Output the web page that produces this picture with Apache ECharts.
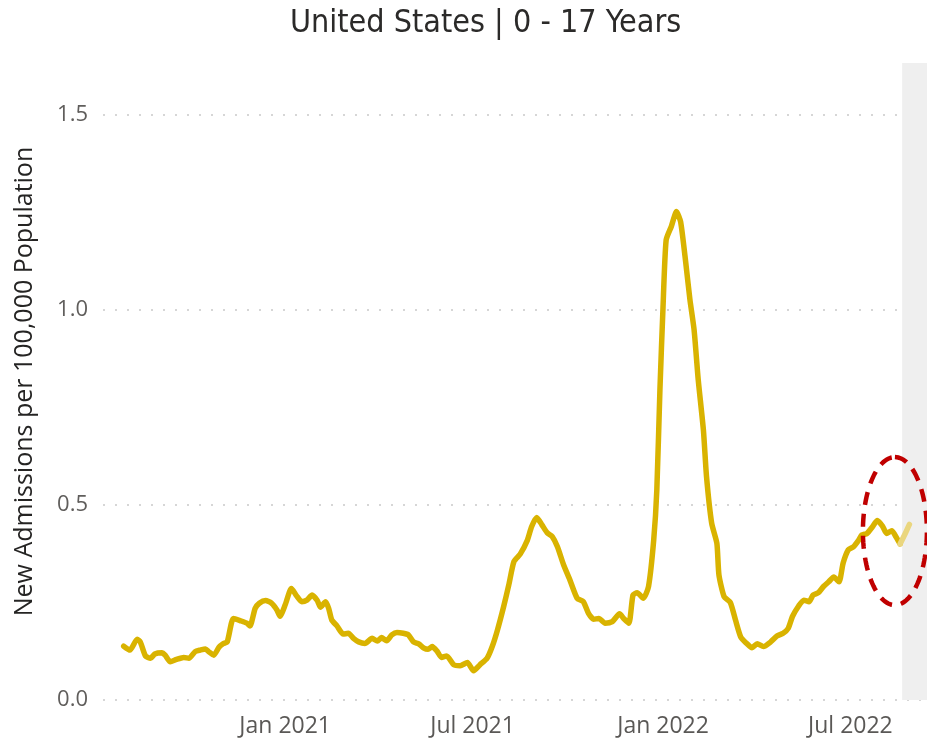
<!DOCTYPE html>
<html>
<head>
<meta charset="utf-8">
<title>United States | 0 - 17 Years</title>
<script src="https://cdn.jsdelivr.net/npm/echarts@6/dist/echarts.min.js"></script>
<style>
  html, body { margin: 0; padding: 0; background: #fff; }
  #chart { width: 927px; height: 739px; }
</style>
</head>
<body>
<div id="chart"></div>
<script>
// new admissions per 100k, 0-17 yrs
const dates = [
  '2020-07-29', '2020-08-04', '2020-08-11', '2020-08-14', '2020-08-19', '2020-08-24', '2020-08-28',
  '2020-09-04', '2020-09-07', '2020-09-12', '2020-09-18', '2020-09-25', '2020-09-30',
  '2020-10-06', '2020-10-11', '2020-10-16', '2020-10-19', '2020-10-24', '2020-10-29',
  '2020-11-02', '2020-11-06', '2020-11-12', '2020-11-19', '2020-11-25', '2020-11-28',
  '2020-12-03', '2020-12-07', '2020-12-13', '2020-12-19', '2020-12-24', '2020-12-27',
  '2021-01-01', '2021-01-07', '2021-01-12', '2021-01-17', '2021-01-22', '2021-01-27',
  '2021-02-01', '2021-02-04', '2021-02-09', '2021-02-12', '2021-02-15', '2021-02-20', '2021-02-26',
  '2021-03-03', '2021-03-08', '2021-03-13', '2021-03-19', '2021-03-26', '2021-03-31',
  '2021-04-04', '2021-04-09', '2021-04-14', '2021-04-19', '2021-04-25', '2021-04-30',
  '2021-05-05', '2021-05-10', '2021-05-15', '2021-05-19', '2021-05-23', '2021-05-28',
  '2021-06-01', '2021-06-06', '2021-06-13', '2021-06-19', '2021-06-26',
  '2021-07-02', '2021-07-08', '2021-07-15', '2021-07-20', '2021-07-25', '2021-07-31',
  '2021-08-05', '2021-08-10', '2021-08-16', '2021-08-23', '2021-08-27',
  '2021-09-01', '2021-09-06', '2021-09-11', '2021-09-16', '2021-09-21', '2021-09-27',
  '2021-10-03', '2021-10-10', '2021-10-16', '2021-10-21', '2021-10-26', '2021-10-31',
  '2021-11-06', '2021-11-13', '2021-11-20', '2021-11-24', '2021-11-29',
  '2021-12-03', '2021-12-07', '2021-12-13', '2021-12-18', '2021-12-23', '2021-12-26', '2021-12-29',
  '2022-01-01', '2022-01-04', '2022-01-09', '2022-01-14', '2022-01-18', '2022-01-23', '2022-01-27', '2022-01-31',
  '2022-02-04', '2022-02-09', '2022-02-12', '2022-02-17', '2022-02-22', '2022-02-24',
  '2022-03-01', '2022-03-07', '2022-03-12', '2022-03-17', '2022-03-22', '2022-03-28',
  '2022-04-02', '2022-04-08', '2022-04-15', '2022-04-21', '2022-04-27',
  '2022-05-02', '2022-05-06', '2022-05-12', '2022-05-17', '2022-05-22', '2022-05-26', '2022-05-31',
  '2022-06-05', '2022-06-10', '2022-06-15', '2022-06-20', '2022-06-24', '2022-06-29',
  '2022-07-04', '2022-07-09', '2022-07-12', '2022-07-17', '2022-07-22', '2022-07-27',
  '2022-08-01', '2022-08-05', '2022-08-10', '2022-08-13', '2022-08-18'
];
const values = [
  0.138, 0.128, 0.156, 0.149, 0.113, 0.107, 0.118,
  0.121, 0.115, 0.098, 0.104, 0.109, 0.107,
  0.124, 0.128, 0.131, 0.124, 0.115, 0.135,
  0.144, 0.149, 0.209, 0.203, 0.197, 0.190,
  0.235, 0.248, 0.255, 0.248, 0.231, 0.215,
  0.244, 0.286, 0.267, 0.252, 0.256, 0.269,
  0.255, 0.238, 0.252, 0.235, 0.205, 0.190, 0.169,
  0.171, 0.158, 0.149, 0.145, 0.158, 0.151,
  0.160, 0.152, 0.167, 0.173, 0.171, 0.167,
  0.149, 0.144, 0.133, 0.130, 0.137, 0.124,
  0.109, 0.113, 0.090, 0.088, 0.096,
  0.075, 0.090, 0.107, 0.137, 0.179, 0.239,
  0.295, 0.355, 0.374, 0.410, 0.444,
  0.468, 0.449, 0.429, 0.419, 0.393, 0.346,
  0.308, 0.261, 0.252, 0.222, 0.207, 0.209,
  0.197, 0.201, 0.221, 0.209, 0.197,
  0.269, 0.275, 0.261, 0.291, 0.410, 0.538, 0.795,
  1.008, 1.179, 1.214, 1.252, 1.226, 1.120, 1.026, 0.949,
  0.821, 0.692, 0.573, 0.453, 0.402, 0.321,
  0.265, 0.250, 0.205, 0.162, 0.147, 0.134,
  0.144, 0.137, 0.149, 0.164, 0.171,
  0.184, 0.214, 0.241, 0.256, 0.252, 0.269, 0.275,
  0.291, 0.303, 0.315, 0.303, 0.351, 0.385,
  0.393, 0.410, 0.423, 0.427, 0.443, 0.460,
  0.446, 0.427, 0.434, 0.423, 0.400
];
// incomplete recent days, drawn lighter
const tailDates = ['2022-08-18', '2022-08-23', '2022-08-27'];
const tailValues = [0.400, 0.427, 0.450];

const xTickDates = ['2021-01-01', '2021-07-01', '2022-01-01', '2022-07-01'];
const xTickLabels = ['Jan 2021', 'Jul 2021', 'Jan 2022', 'Jul 2022'];
const axisStart = '2020-07-09';
const axisEnd = '2022-09-13';
const incompleteFrom = '2022-08-20';

// dashed red ring around the latest values
const ringCenter = ['2022-08-13', 0.433];

const toTime = d => echarts.number.parseDate(d).getTime();
const xTickTimes = xTickDates.map(toTime);

const chart = echarts.init(document.getElementById('chart'));

const option = {
  animation: false,
  backgroundColor: '#ffffff',
  title: {
    text: 'United States | 0 - 17 Years',
    left: 285,
    top: 3,
    textStyle: {
      fontFamily: '"DejaVu Sans Condensed", "Liberation Sans Narrow", sans-serif',
      fontWeight: 'normal',
      fontSize: 32,
      color: '#2b2a29'
    }
  },
  grid: {
    left: 103,
    right: 0,
    top: 63,
    bottom: 39,
    containLabel: false,
    outerBoundsMode: 'none'
  },
  xAxis: {
    type: 'value',
    min: toTime(axisStart),
    max: toTime(axisEnd),
    axisLine: { show: false },
    axisTick: { show: false },
    splitLine: { show: false },
    axisLabel: {
      customValues: xTickTimes,
      formatter: v => xTickLabels[xTickTimes.indexOf(+v)] || '',
      fontFamily: '"Open Sans", sans-serif',
      fontSize: 23,
      color: '#5a5856',
      margin: 15
    }
  },
  yAxis: {
    type: 'value',
    min: 0,
    max: 1.633,
    interval: 0.5,
    name: 'New Admissions per 100,000 Population',
    nameLocation: 'middle',
    nameGap: 66,
    nameTextStyle: {
      fontFamily: '"Open Sans", sans-serif',
      fontSize: 25,
      color: '#252423'
    },
    axisLine: { show: false },
    axisTick: { show: false },
    axisLabel: {
      formatter: v => v.toFixed(1),
      showMaxLabel: false,
      fontFamily: '"Open Sans", sans-serif',
      fontSize: 22,
      color: '#605e5c',
      margin: 15
    },
    splitLine: {
      showMaxLine: false,
      lineStyle: { color: '#d6d6d6', width: 2, type: [2, 10] }
    }
  },
  series: [
    {
      type: 'line',
      data: dates.map((d, i) => [toTime(d), values[i]]),
      showSymbol: false,
      smooth: 0.2,
      lineStyle: { color: '#d9b300', width: 5.5, cap: 'round', join: 'round' },
      z: 3,
      markArea: {
        silent: true,
        itemStyle: { color: '#efefef' },
        data: [[{ xAxis: toTime(incompleteFrom) }, { xAxis: toTime(axisEnd) }]]
      }
    },
    {
      type: 'line',
      data: tailDates.map((d, i) => [toTime(d), tailValues[i]]),
      showSymbol: false,
      smooth: 0.2,
      lineStyle: { color: '#ead67e', width: 5.5, cap: 'round', join: 'round' },
      z: 3
    }
  ]
};

chart.setOption(option);

// ring: centred on a data position, sized in pixels
const c = chart.convertToPixel({ gridIndex: 0 }, [toTime(ringCenter[0]), ringCenter[1]]);
const rx = 32, ry = 74;
const ringPts = [];
for (let k = 0; k <= 120; k++) {
  const a = -Math.PI / 2 + (k / 120) * Math.PI * 2;
  ringPts.push([c[0] + rx * Math.cos(a), c[1] + ry * Math.sin(a)]);
}
chart.setOption({
  graphic: [{
    type: 'polyline',
    shape: { points: ringPts },
    style: { fill: null, stroke: '#c00000', lineWidth: 4.5, lineDash: [13, 9] },
    z: 100,
    silent: true
  }]
});
</script>
</body>
</html>
